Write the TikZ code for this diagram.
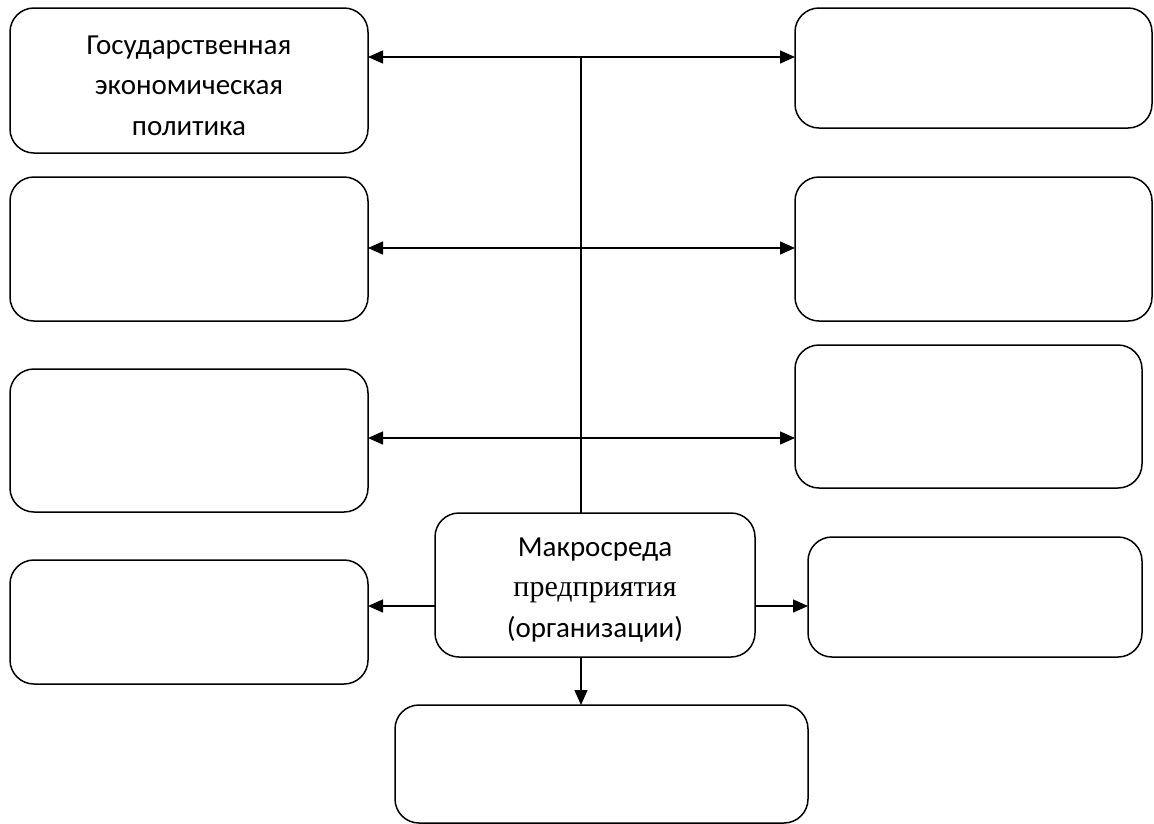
\documentclass[tikz,border=0pt]{standalone}
\usepackage{fontspec}
\setmainfont{Carlito}
\newfontfamily\timesfont{Liberation Serif}
\usetikzlibrary{arrows.meta}

\tikzset{
  blok/.style={
    rectangle,
    rounded corners=24pt,
    draw=black,
    line width=1.5pt,
    outer sep=0pt,
    anchor=north west},
  nadpis/.style={align=center, yshift=-5pt, font=\fontsize{29}{40.5}\selectfont},
  strelka/.style={line width=1.5pt, -{Triangle[length=15pt,width=13pt]}},
  dvestrelki/.style={line width=1.5pt, {Triangle[length=15pt,width=13pt]}-{Triangle[length=15pt,width=13pt]}}
}

\begin{document}
\begin{tikzpicture}[x=1pt,y=-1pt]
  \useasboundingbox (0,0) rectangle (1154,823);

  % left column
  \node[blok, minimum width=358pt, minimum height=145pt] at (10,8) (gep) {};
  \node[nadpis] at (gep.center) (gepl) {Государственная\\экономическая\\политика};
  \node[blok, minimum width=358pt, minimum height=144pt] at (10,177) (l2) {};
  \node[blok, minimum width=358pt, minimum height=143pt] at (10,369) (l3) {};
  \node[blok, minimum width=358pt, minimum height=124pt] at (10,560) (l4) {};

  % right column
  \node[blok, minimum width=357pt, minimum height=120pt] at (795,8) (r1) {};
  \node[blok, minimum width=357pt, minimum height=144pt] at (795,177) (r2) {};
  \node[blok, minimum width=347pt, minimum height=143pt] at (795,345) (r3) {};
  \node[blok, minimum width=334pt, minimum height=120pt] at (808,537) (r4) {};

  % centre
  \node[blok, minimum width=320pt, minimum height=144pt] at (435,513) (makro) {};
  \node[nadpis] at (makro.center) (makrol)
    {Макросреда\\{\timesfont\fontsize{30}{40.5}\selectfont предприятия}\\(организации)};
  \node[blok, minimum width=413pt, minimum height=118pt] at (395,705) (niz) {};

  % connectors
  \coordinate (v1) at (581,57);
  \coordinate (v2) at (581,248);
  \coordinate (v3) at (581,438);
  \draw[line width=1.5pt] (v1) -- (makro.north -| v1);
  \draw[dvestrelki] (gep.east |- v1) -- (r1.west |- v1);
  \draw[dvestrelki] (l2.east |- v2) -- (r2.west |- v2);
  \draw[dvestrelki] (l3.east |- v3) -- (r3.west |- v3);
  \draw[strelka] (makro.west |- 0,606) -- (l4.east |- 0,606);
  \draw[strelka] (makro.east |- 0,606) -- (r4.west |- 0,606);
  \draw[strelka] (makro.south -| v1) -- (niz.north -| v1);

\end{tikzpicture}
\end{document}
